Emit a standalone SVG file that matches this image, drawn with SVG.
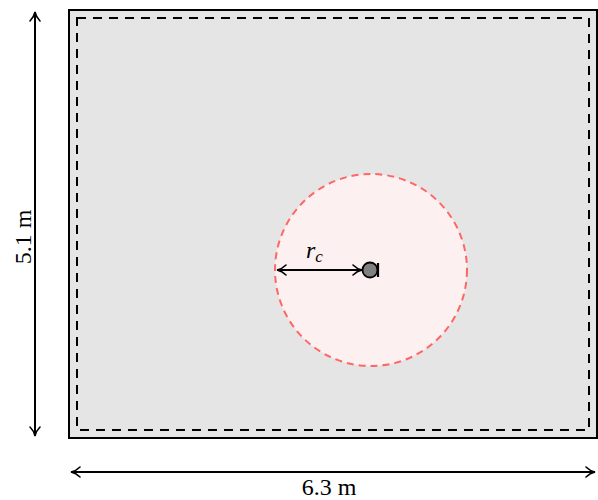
<svg xmlns="http://www.w3.org/2000/svg" width="598" height="500" viewBox="0 0 598 500">
<defs>
<style>
.dim{stroke:#000;stroke-width:2;fill:none}
</style>
<marker id="ah" viewBox="0 0 12 12" refX="11" refY="6" markerWidth="12" markerHeight="12" markerUnits="userSpaceOnUse" orient="auto-start-reverse">
<path d="M2,1 Q6,5 11,6 Q6,7 2,11" fill="none" stroke="#000" stroke-width="1.6" stroke-linecap="round"/>
</marker>
</defs>
<rect width="598" height="500" fill="#fff"/>
<g id="room">
<rect x="69" y="10" width="528" height="428" fill="#e5e5e5" stroke="#000" stroke-width="2"/>
<rect x="77" y="18" width="512" height="412" fill="none" stroke="#000" stroke-width="2" stroke-dasharray="9,7"/>
</g>
<g id="zone">
<circle cx="371" cy="270" r="96" fill="#fdf0f0" stroke="#ff6666" stroke-width="2" stroke-dasharray="7,5"/>
</g>
<g id="connectors">
<line class="dim" x1="35" y1="12" x2="35" y2="436" marker-start="url(#ah)" marker-end="url(#ah)"/>
<line class="dim" x1="71" y1="472" x2="595" y2="472" marker-start="url(#ah)" marker-end="url(#ah)"/>
<line class="dim" x1="277" y1="270" x2="362" y2="270" marker-start="url(#ah)" marker-end="url(#ah)"/>
</g>
<g id="source">
<circle cx="370" cy="270" r="7.5" fill="#808080" stroke="#000" stroke-width="1.8"/>
<line x1="378" y1="263" x2="378" y2="277" stroke="#000" stroke-width="2.2"/>
</g>
<g id="labels" font-family="'Liberation Serif', 'Times New Roman', serif" fill="#000">
<text x="329" y="495" font-size="24" text-anchor="middle">6.3 m</text>
<text transform="translate(31,237) rotate(-90)" font-size="24" text-anchor="middle">5.1 m</text>
<text x="306" y="258" font-size="24" font-style="italic">r<tspan font-size="17" dy="4">c</tspan></text>
</g>
</svg>
